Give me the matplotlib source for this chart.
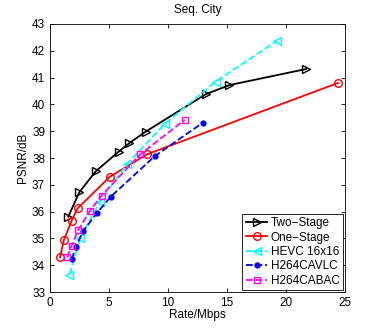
import matplotlib
matplotlib.use("Agg")
import matplotlib.pyplot as plt

two_x = [1.55, 2.48, 3.89, 5.83, 6.7, 8.1, 13.2, 15.2, 21.7]
two_y = [35.81, 36.72, 37.51, 38.24, 38.55, 38.98, 40.38, 40.72, 41.32]
one_x = [0.85, 1.18, 1.83, 2.34, 5.07, 8.23, 24.4]
one_y = [34.29, 34.94, 35.66, 36.12, 37.3, 38.14, 40.8]
hevc_x = [1.65, 2.56, 4.23, 6.54, 9.72, 14.03, 19.27]
hevc_y = [33.65, 35.02, 36.37, 37.78, 39.27, 40.85, 42.38]
cavlc_x = [1.83, 2.2, 2.82, 4.0, 5.16, 8.88, 12.96]
cavlc_y = [34.22, 34.69, 35.28, 35.96, 36.56, 38.07, 39.32]
cabac_x = [1.46, 1.83, 2.39, 3.38, 4.37, 7.66, 11.41]
cabac_y = [34.29, 34.72, 35.31, 36.02, 36.6, 38.14, 39.42]

plt.rcParams['font.family'] = ['Liberation Sans', 'DejaVu Sans']

fig = plt.figure(figsize=(3.82, 3.29), dpi=100)
ax = fig.add_axes([50/382, 37/329, 295/382, 268/329])

lw = 1.3
ax.plot(two_x, two_y, color='black', marker='>', mfc='none', ms=6, lw=lw, label='Two\u2212Stage')
ax.plot(one_x, one_y, color='red', marker='o', mfc='none', ms=5.5, lw=lw, label='One\u2212Stage')
ax.plot(hevc_x, hevc_y, color='cyan', marker='<', mfc='none', ms=6, lw=lw, ls='--', label='HEVC 16x16')
ax.plot(cavlc_x, cavlc_y, color='blue', marker='.', ms=7, lw=lw, ls='--', label='H264CAVLC')
ax.plot(cabac_x, cabac_y, color='magenta', marker='s', mfc='none', ms=4.5, lw=lw, ls='--', label='H264CABAC')

ax.set_xlim(0, 25)
ax.set_ylim(33, 43)
ax.set_xticks([0, 5, 10, 15, 20, 25])
ax.set_yticks(range(33, 44))
ax.tick_params(direction='in', top=True, right=True, labelsize=8.5, length=3, width=0.6)
for s in ax.spines.values():
    s.set_linewidth(0.6)
ax.set_title('Seq. City', fontsize=8.5, pad=8)
ax.set_xlabel('Rate/Mbps', fontsize=8.5, labelpad=0)
ax.set_ylabel('PSNR/dB', fontsize=8.5, labelpad=2)

leg = ax.legend(loc='lower right', fontsize=8.5, borderaxespad=0.15, handlelength=1.8,
                handletextpad=0.3, labelspacing=0.2, fancybox=False, edgecolor='black',
                framealpha=1, borderpad=0.3)
leg.get_frame().set_linewidth(0.6)

fig.savefig('out.png', dpi=100)
